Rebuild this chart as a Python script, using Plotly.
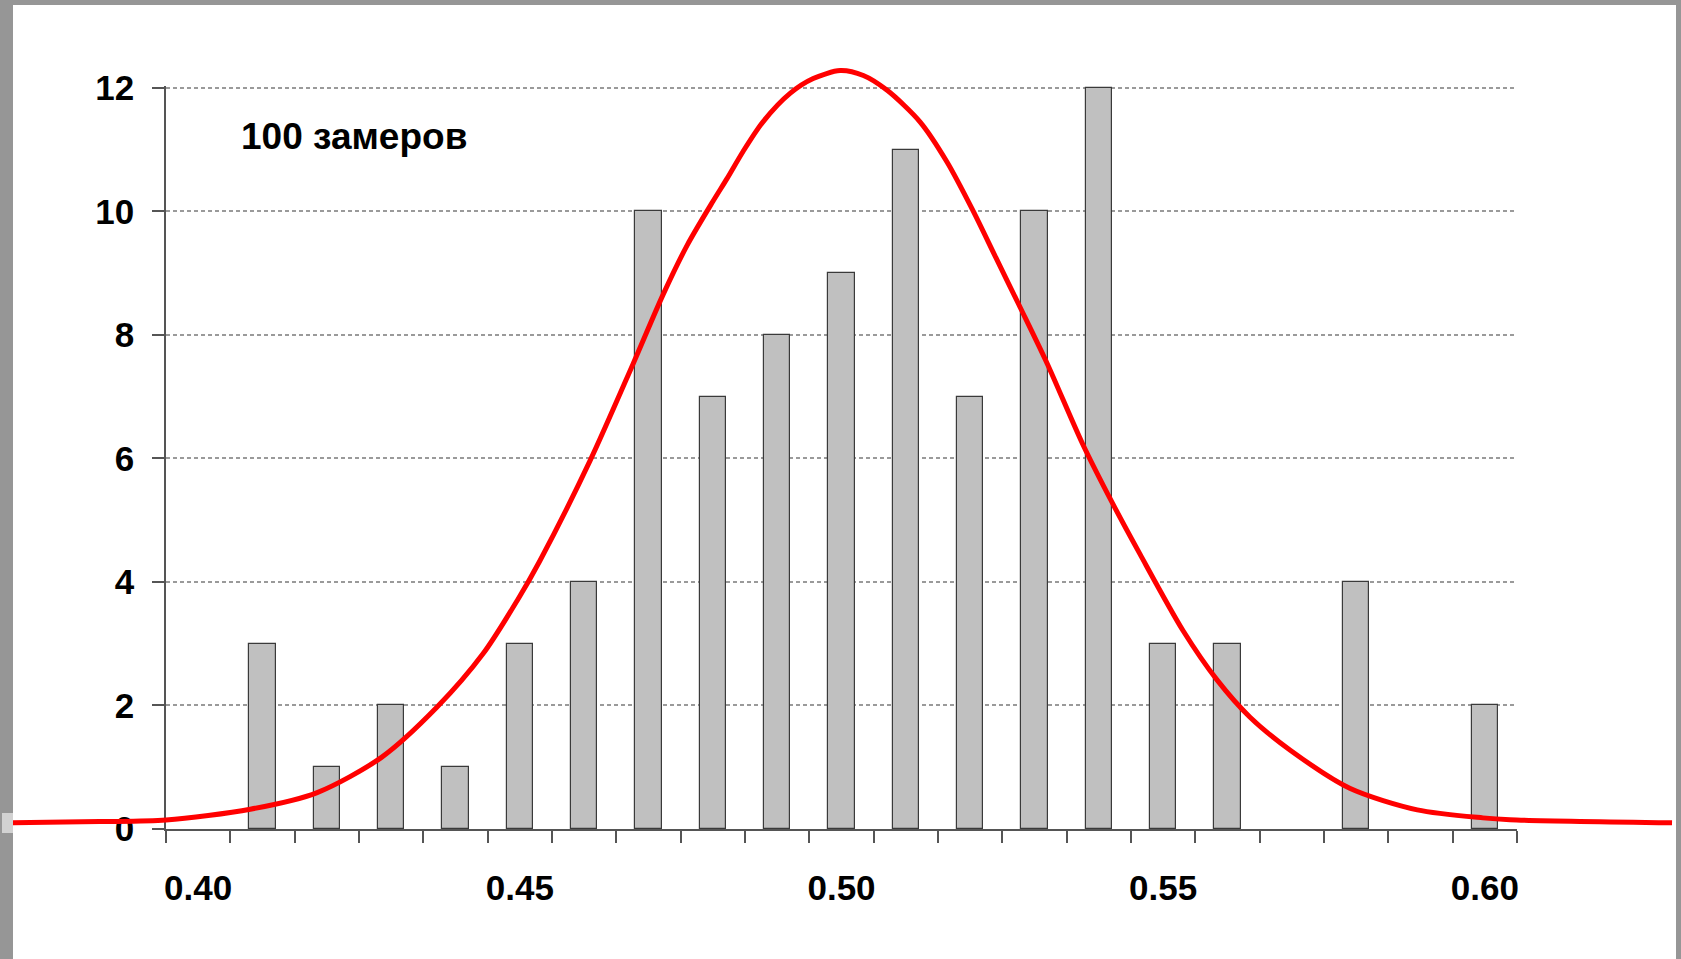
import plotly.graph_objects as go

# Measured values (bin centre) and how many of the 100 measurements fell into each bin
bins = [0.40, 0.41, 0.42, 0.43, 0.44, 0.45, 0.46, 0.47, 0.48, 0.49, 0.50,
        0.51, 0.52, 0.53, 0.54, 0.55, 0.56, 0.57, 0.58, 0.59, 0.60]
counts = [0, 3, 1, 2, 1, 3, 4, 10, 7, 8, 9,
          11, 7, 10, 12, 3, 3, 0, 4, 0, 2]

# Fitted distribution curve, sampled along the measurement axis
curve_x = [0.3712, 0.3847, 0.3950, 0.4081, 0.4185, 0.4285, 0.4371, 0.4443,
           0.4496, 0.4531, 0.4609, 0.4676, 0.4723, 0.4760, 0.4800, 0.4822,
           0.4847, 0.4878, 0.4920, 0.4956, 0.4998, 0.5034, 0.5071, 0.5122,
           0.5164, 0.5204, 0.5240, 0.5278, 0.5320, 0.5375, 0.5422, 0.5464,
           0.5531, 0.5584, 0.5635, 0.5697, 0.5790, 0.5895, 0.5997,
           0.6039, 0.6291]
curve_y = [0.10, 0.12, 0.145, 0.32, 0.59, 1.16, 1.97, 2.84,
           3.70, 4.34, 5.96, 7.53, 8.66, 9.45, 10.16, 10.53,
           10.97, 11.45, 11.91, 12.15, 12.28, 12.20, 11.96, 11.45,
           10.80, 10.02, 9.25, 8.44, 7.53, 6.23, 5.26, 4.45,
           3.21, 2.41, 1.81, 1.28, 0.66, 0.31, 0.18,
           0.15, 0.10]

x_label_vals = [0.40, 0.45, 0.50, 0.55, 0.60]
x_labels = ["0.40", "0.45", "0.50", "0.55", "0.60"]
y_tick_vals = [0, 2, 4, 6, 8, 10, 12]
y_max = 12
note_text = "100 замеров"

FONT = "Liberation Sans, Arial, sans-serif"
AXIS_COLOR = "#555555"

# Page geometry (pixels)
W, H = 1681, 959
card_left, card_right, card_top = 13, 1676, 5   # white card inside the grey frame
plot_left, plot_right = 166, 1517               # histogram axes
plot_top, plot_bottom = 86, 829

bin_step = 0.01
x_min = bins[0] - bin_step / 2
x_max = bins[-1] + bin_step / 2
px_per_unit = (plot_right - plot_left) / (x_max - x_min)
paper_w = card_right - card_left
paper_h = plot_bottom - card_top
dom_x = [(plot_left - card_left) / paper_w, (plot_right - card_left) / paper_w]
dom_y_top = (plot_bottom - plot_top) / paper_h

# a little headroom so the top gridline is drawn
y_hi = y_max + 0.03
# wide overlay axes so the curve can run across the whole card
x2_min = x_min - (plot_left - card_left) / px_per_unit
x2_max = x_max + (card_right - plot_right) / px_per_unit
y2_max = y_hi / dom_y_top

bin_edges = [round(b - bin_step / 2, 4) for b in bins] + [round(bins[-1] + bin_step / 2, 4)]
bar_heights = [c if c > 0 else None for c in counts]


def py(pixel_y):
    """Vertical pixel position -> paper fraction."""
    return (plot_bottom - pixel_y) / paper_h


def px(pixel_x):
    """Horizontal pixel position -> paper fraction."""
    return (pixel_x - card_left) / paper_w


fig = go.Figure()

fig.add_trace(go.Bar(
    x=bins, y=bar_heights, width=0.0041,
    marker=dict(color="#C0C0C0", line=dict(color="#3a3a3a", width=1.2)),
    xaxis="x", yaxis="y", hoverinfo="x+y",
))

fig.add_trace(go.Scatter(
    x=curve_x, y=curve_y, mode="lines",
    line=dict(color="#FF0000", width=5, shape="spline", smoothing=0.8),
    xaxis="x2", yaxis="y2", hoverinfo="skip",
))

tick_font = dict(family=FONT, size=35, color="black", weight="bold")

fig.update_layout(
    width=W, height=H,
    margin=dict(l=card_left, r=W - card_right, t=card_top, b=H - plot_bottom,
                pad=0, autoexpand=False),
    paper_bgcolor="#969696",
    plot_bgcolor="rgba(0,0,0,0)",
    showlegend=False,
    bargap=0,
    xaxis=dict(
        domain=dom_x, range=[x_min, x_max], anchor="y",
        tickmode="array", tickvals=x_label_vals, ticktext=x_labels,
        ticks="", showgrid=False, zeroline=False, automargin=False,
        showline=True, linecolor=AXIS_COLOR, linewidth=1.5,
        tickfont=tick_font, ticklabelstandoff=27,
        minor=dict(tickmode="array", tickvals=bin_edges, ticks="outside",
                   ticklen=12, tickwidth=1.5, tickcolor=AXIS_COLOR, showgrid=False),
    ),
    yaxis=dict(
        domain=[0, dom_y_top], range=[0, y_hi], anchor="x", automargin=False,
        tickmode="array", tickvals=y_tick_vals,
        ticks="outside", ticklen=12, tickwidth=1.5, tickcolor=AXIS_COLOR,
        showline=True, linecolor=AXIS_COLOR, linewidth=1.5,
        showgrid=True, gridcolor="#9a9a9a", gridwidth=1.5, griddash="4px,3px",
        zeroline=False, tickfont=tick_font, ticklabelstandoff=11,
    ),
    xaxis2=dict(domain=[0, 1], range=[x2_min, x2_max], anchor="y2",
                visible=False, showgrid=False, zeroline=False, automargin=False),
    yaxis2=dict(domain=[0, 1], range=[0, y2_max], anchor="x2",
                visible=False, showgrid=False, zeroline=False, automargin=False),
    shapes=[
        # white card inside the grey frame
        dict(type="rect", xref="paper", yref="paper", layer="below",
             x0=0, x1=1, y0=py(H), y1=1,
             fillcolor="white", line=dict(width=0)),
        # small light tab on the left edge of the frame
        dict(type="rect", xref="paper", yref="paper", layer="above",
             x0=px(2), x1=0, y0=py(833), y1=py(813),
             fillcolor="#d2d2d2", line=dict(width=0)),
    ],
    annotations=[
        dict(text=note_text, xref="paper", yref="paper",
             x=px(239), y=py(136),
             xanchor="left", yanchor="middle", showarrow=False,
             font=dict(family=FONT, size=37, color="black", weight="bold")),
    ],
)

fig.write_html("out.html")
